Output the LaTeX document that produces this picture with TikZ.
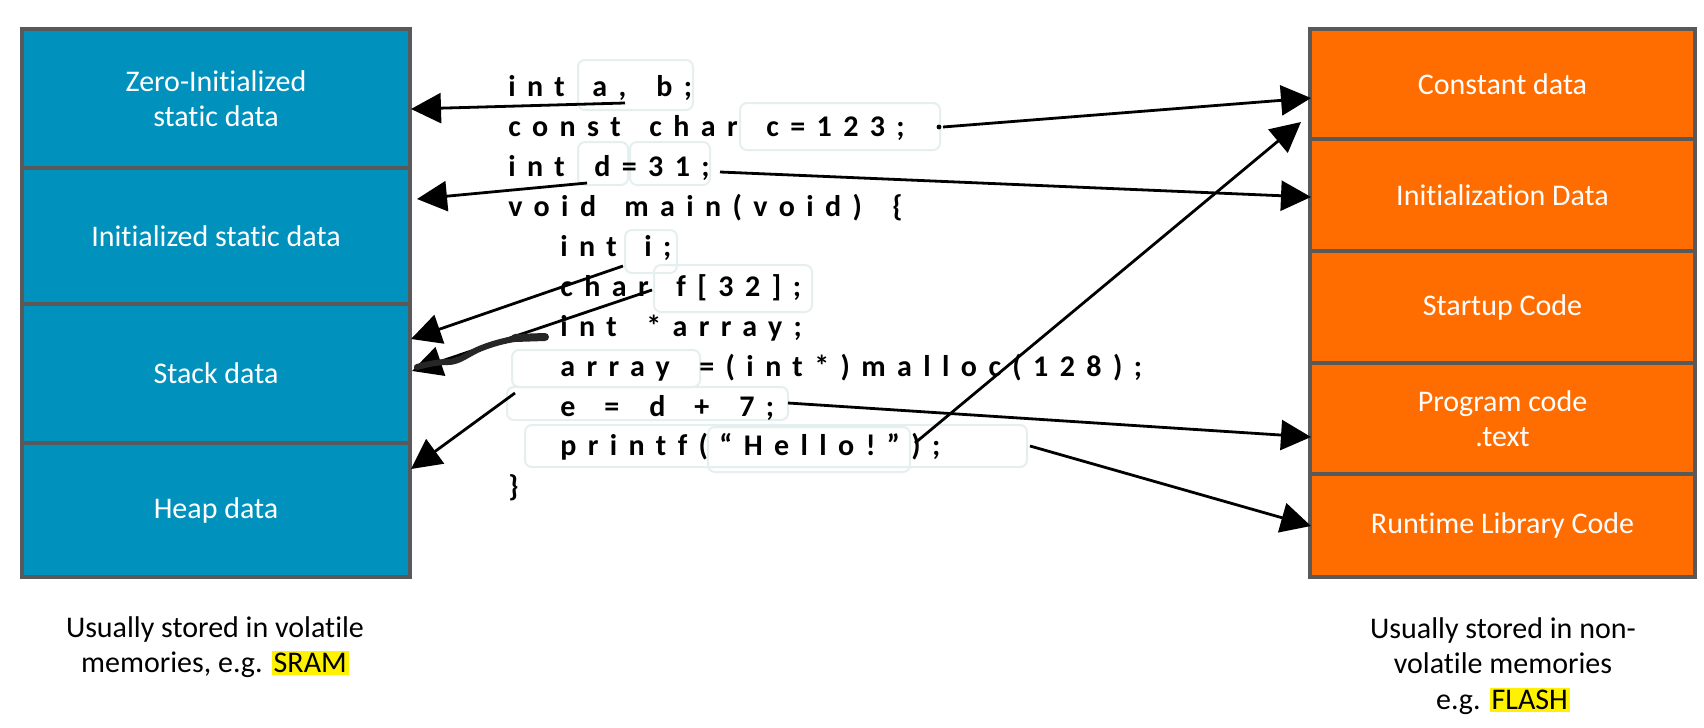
\documentclass[tikz,border=0pt]{standalone}
\usepackage{fontspec}
\setmainfont{Carlito}[Ligatures=NoCommon]
\newfontfamily\codefont{Carlito}[LetterSpace=38,Ligatures=NoCommon]
\usetikzlibrary{arrows.meta}
\definecolor{sblue}{HTML}{0091BD}
\definecolor{sorange}{HTML}{FF6C00}
\definecolor{sborder}{HTML}{595959}
\definecolor{hbox}{HTML}{E6EFEF}
\setlength{\fboxsep}{1pt}
\begin{document}
\begin{tikzpicture}[x=0.5pt,y=-0.5pt,
  sec/.style={draw=sborder, line width=2.2pt, text=white, align=center, inner sep=0pt,
    font=\fontsize{15}{17.5}\selectfont},
  lsec/.style={sec, fill=sblue, minimum width=194pt},
  rsec/.style={sec, fill=sorange, minimum width=192.5pt},
  code/.style={anchor=base west, inner sep=0pt, font=\codefont\bfseries\fontsize{15}{18}\selectfont},
  vbox/.style={draw=hbox, line width=1pt, rounded corners=3.5pt},
  note/.style={align=center, inner sep=0pt, font=\fontsize{15}{17.8}\selectfont},
  arr/.style={line width=1.4pt, -{Triangle[length=15pt,width=15pt]}},
  scrib/.style={line width=3pt, draw=black!85, line cap=round, line join=round},
]
\useasboundingbox (0,0) rectangle (1704,728);
\fill[white] (0,0) rectangle (1704,728);

% left stack (SRAM)
\node[lsec, minimum height=69.5pt] (zi) at (216,98.5) {Zero-Initialized\\static data};
\node[lsec, minimum height=68pt]   (is) at (216,236) {Initialized static data};
\node[lsec, minimum height=69.5pt] (sd) at (216,373.5) {Stack data};
\node[lsec, minimum height=67pt]   (hd) at (216,510) {Heap data};

% right stack (FLASH)
\node[rsec, minimum height=55pt]   (cd) at (1502.5,84) {Constant data};
\node[rsec, minimum height=56pt]   (id) at (1502.5,195) {Initialization Data};
\node[rsec, minimum height=56pt]   (sc) at (1502.5,307) {Startup Code};
\node[rsec, minimum height=55.5pt] (pc) at (1502.5,418.5) {Program code\\.text};
\node[rsec, minimum height=51.5pt] (rl) at (1502.5,525.5) {Runtime Library Code};

% highlight boxes around code fragments
\draw[vbox] (578,60) rectangle (693,110);
\draw[vbox] (740,103) rectangle (940,150);
\draw[vbox] (578,142) rectangle (628,185);
\draw[vbox] (630,142) rectangle (710,185);
\draw[vbox] (625,230) rectangle (677,273);
\draw[vbox] (654,265) rectangle (812,312);
\draw[vbox] (512,350) rectangle (700,387);
\draw[vbox] (507,387) rectangle (788,420);
\draw[vbox] (525,425) rectangle (1027,467);
\draw[vbox] (708,427) rectangle (910,472);

% code
\node[code] (l1a) at (508,96.5) {int};
\node[code] (l1b) at (592,96.5) {a,};
\node[code] (l1c) at (656,96.5) {b;};
\node[code] (l2a) at (508,136.5) {const};
\node[code] (l2b) at (649,136.5) {char};
\node[code] (l2c) at (766,136.5) {c=123;};
\node[code] (l3a) at (508,176.5) {int};
\node[code] (l3b) at (594,176.5) {d=31;};
\node[code] (l4a) at (508,216.5) {void};
\node[code] (l4b) at (624,216.5) {main(void)};
\node[code] (l4c) at (892,216.5) {\{};
\node[code] (l5a) at (560,256.5) {int};
\node[code] (l5b) at (644,256.5) {i;};
\node[code] (l6a) at (560,296.5) {char};
\node[code] (l6b) at (676,296.5) {f[32];};
\node[code] (l7a) at (560,336.5) {int};
\node[code] (l7b) at (646,336.5) {*array;};
\node[code] (l8a) at (560,376.5) {array};
\node[code] (l8b) at (699,376.5) {=(int*)malloc(128);};
\node[code] (l9a) at (560,416) {e};
\node[code] (l9b) at (604,416) {=};
\node[code] (l9c) at (649,416) {d};
\node[code] (l9d) at (694,416) {+};
\node[code] (l9e) at (739,416) {7;};
\node[code] (l10) at (560,455) {printf(“Hello!”);};
\node[code] (l11) at (508,496) {\}};

% bottom notes
\node[note] (nl) at (215,647) {Usually stored in volatile\\memories, e.g. \colorbox{yellow}{SRAM}};
\node[note] (nr) at (1503,666) {Usually stored in non-\\volatile memories\\e.g. \colorbox{yellow}{FLASH}};

% arrow end points
\coordinate (s1) at (625,103);  \coordinate (t1) at (411,109);
\coordinate (s2) at (943,127);  \coordinate (t2) at (1311,98);
\coordinate (s3) at (720,172);  \coordinate (t3) at (1311,197);
\coordinate (s4) at (587,183);  \coordinate (t4) at (417,199);
\coordinate (s5) at (623,266);  \coordinate (t5) at (411,339);
\coordinate (s6) at (652,290);  \coordinate (t6) at (412,371);
\coordinate (s7) at (515,393);  \coordinate (t7) at (411,469);
\coordinate (s8) at (788,403);  \coordinate (t8) at (1311,437);
\coordinate (s9) at (915,443);  \coordinate (t9) at (1301,122);
\coordinate (s10) at (1030,446); \coordinate (t10) at (1311,526);

\fill (s2) ++(-4,0) circle (1.2pt);
\draw[arr] (s1) -- (t1);
\draw[arr] (s2) -- (t2);
\draw[arr] (s3) -- (t3);
\draw[arr] (s4) -- (t4);
\draw[arr] (s5) -- (t5);
\draw[arr] (s6) -- (t6);
\draw[arr] (s7) -- (t7);
\draw[arr] (s8) -- (t8);
\draw[arr] (s9) -- (t9);
\draw[arr] (s10) -- (t10);

% hand-drawn scribble
\coordinate (k1) at (545,337);
\coordinate (k2) at (417,367);
\draw[scrib] (k1) .. controls (520,336) and (495,342) .. (477,350)
  .. controls (465,356) and (458,362) .. (448,362)
  .. controls (438,362) and (428,364) .. (k2);
\draw[line width=4pt, draw=black!85, line cap=round] (545,337) -- (515,338);
\end{tikzpicture}
\end{document}
